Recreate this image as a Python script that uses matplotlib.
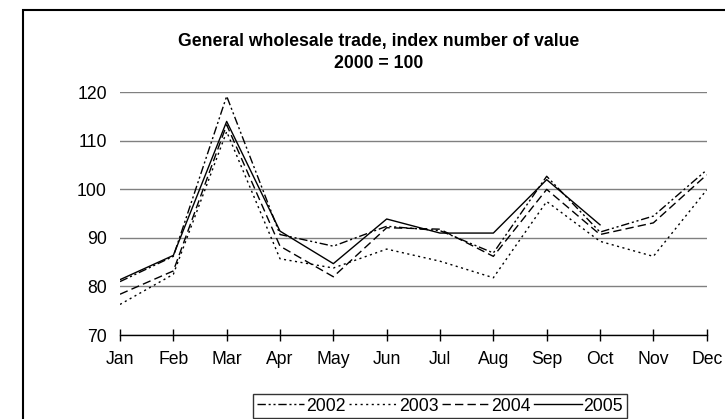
import matplotlib
matplotlib.use("Agg")
import matplotlib.pyplot as plt
from matplotlib.patches import Rectangle

months = ["Jan", "Feb", "Mar", "Apr", "May", "Jun", "Jul", "Aug", "Sep", "Oct", "Nov", "Dec"]
v2002 = [81.0, 86.2, 119.2, 90.7, 88.3, 92.4, 91.5, 86.9, 102.7, 91.2, 94.5, 104.0]
v2003 = [76.3, 82.5, 111.9, 85.7, 83.8, 87.7, 85.2, 81.8, 97.5, 89.3, 86.2, 99.9]
v2004 = [78.4, 83.2, 113.3, 88.3, 82.0, 92.1, 91.8, 86.2, 100.0, 90.7, 93.1, 103.0]
v2005 = [81.4, 86.4, 114.0, 91.4, 84.7, 93.9, 91.0, 91.0, 102.0, 92.7]

plt.rcParams["font.family"] = ["Liberation Sans", "DejaVu Sans"]
fs = 12.7

fig = plt.figure(figsize=(7.25, 4.19), dpi=100)
ax = fig.add_axes([120 / 725, 1 - 335 / 419, (706.7 - 120) / 725, (335 - 92.3) / 419])

x = list(range(len(months)))
ax.plot(x, v2002, color="black", lw=1, ls=(0, (6, 2, 1.5, 2, 1.5, 2)), label="2002")
ax.plot(x, v2003, color="black", lw=1, ls=(0, (1.5, 2.5)), label="2003")
ax.plot(x, v2004, color="black", lw=1, ls=(0, (6, 3)), label="2004")
ax.plot(x[:len(v2005)], v2005, color="black", lw=1, ls="-", label="2005")

ax.set_xlim(0, 11)
ax.set_ylim(70, 120)
ax.set_yticks(range(70, 121, 10))
ax.set_xticks(x)
ax.set_xticklabels(months)
ax.grid(axis="y", color="#808080", lw=1)
ax.set_axisbelow(True)
for s in ["top", "right", "left"]:
    ax.spines[s].set_visible(False)
ax.spines["bottom"].set_color("black")
ax.spines["bottom"].set_linewidth(1)
ax.tick_params(axis="y", length=0, pad=9.5, labelsize=fs)
ax.tick_params(axis="x", direction="inout", length=9, width=1, pad=7, labelsize=fs)

fig.text(379 / 725, 1 - 46 / 419, "General wholesale trade, index number of value",
         ha="center", va="baseline", fontsize=fs, fontweight="bold")
fig.text(379 / 725, 1 - 68 / 419, "2000 = 100",
         ha="center", va="baseline", fontsize=fs, fontweight="bold")

# outer chart frame (open to the right and bottom edge)
fig.patches.append(Rectangle((23 / 725, -0.05), 1.0, 1 - 10.5 / 419 + 0.05,
                             transform=fig.transFigure, fill=False,
                             edgecolor="black", lw=1.5))

leg = fig.legend(loc="upper center", bbox_to_anchor=(440 / 725, 1 - 394 / 419), ncol=4,
                 frameon=True, fancybox=False, edgecolor="black", fontsize=fs,
                 handlelength=2.7, handletextpad=0.1, columnspacing=0.2,
                 borderpad=0.2, borderaxespad=0)
leg.get_frame().set_linewidth(1)

fig.savefig("out.png", dpi=100)
